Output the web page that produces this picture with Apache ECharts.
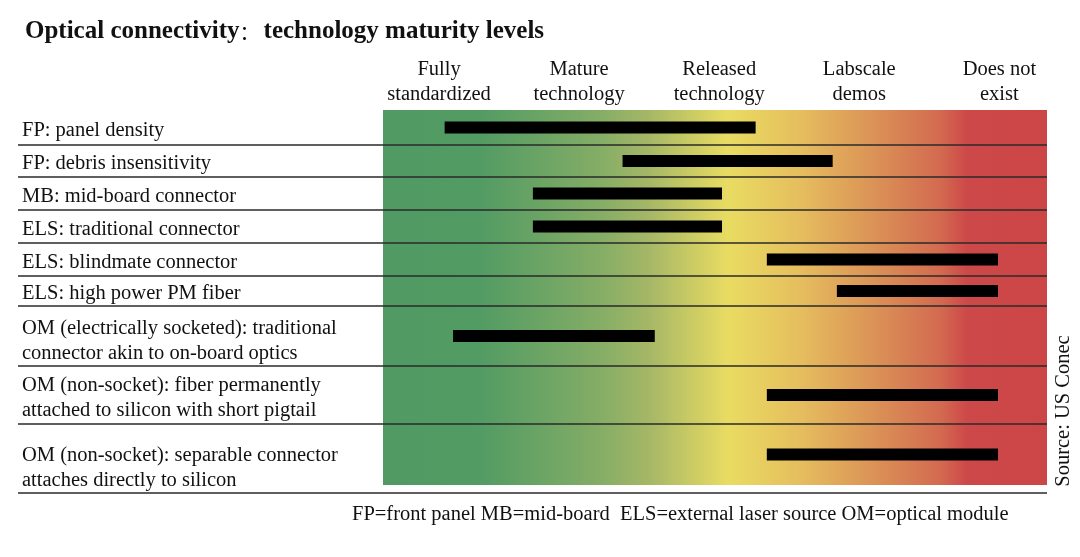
<!DOCTYPE html>
<html>
<head>
<meta charset="utf-8">
<script src="https://cdn.jsdelivr.net/npm/echarts@6/dist/echarts.min.js"></script>
<style>html,body{margin:0;padding:0;background:#fff}#chart{width:1080px;height:557px}</style>
</head>
<body>
<div id="chart"></div>
<script>
// ---- data ----
const titleMain = 'Optical connectivity';
const titleSep = '：';
const titleSub = 'technology maturity levels';
const levels = ['Fully\nstandardized', 'Mature\ntechnology', 'Released\ntechnology', 'Labscale\ndemos', 'Does not\nexist'];
const levelValues = [1, 2, 3, 4, 5];
const categories = [
  'FP: panel density',
  'FP: debris insensitivity',
  'MB: mid-board connector',
  'ELS: traditional connector',
  'ELS: blindmate connector',
  'ELS: high power PM fiber',
  'OM (electrically socketed): traditional\nconnector akin to on-board optics',
  'OM (non-socket): fiber permanently\nattached to silicon with short pigtail',
  'OM (non-socket): separable connector\nattaches directly to silicon'
];
const barStart = [1.04, 2.31, 1.67, 1.67, 3.34, 3.84, 1.10, 3.34, 3.34];
const barEnd   = [3.26, 3.81, 3.02, 3.02, 4.99, 4.99, 2.54, 4.99, 4.99];
const footnote = 'FP=front panel MB=mid-board  ELS=external laser source OM=optical module';
const sourceText = 'Source: US Conec';

// ---- layout (row geometry in y-axis units) ----
const rowEdges = [0, 35, 67, 100, 133, 166, 196, 256, 314, 383];
const labelShift = [3, 3, 3, 3, 3, 3, 5, 3, 10];
const gradEnd = 375;
const X_MIN = 0.6, X_MAX = 5.34;
const BAR_H = 12;
const LINE_LEFT = 18;
const FONT = '"Liberation Serif", "Times New Roman", serif';
const CJK_FONT = '"Noto Sans CJK SC", sans-serif';
const FS = 20.5;

const barMid = categories.map((c, i) => (rowEdges[i] + Math.min(rowEdges[i + 1], gradEnd)) / 2);
const labelMid = categories.map((c, i) => (rowEdges[i] + rowEdges[i + 1]) / 2 + labelShift[i]);

const chart = echarts.init(document.getElementById('chart'), null, {renderer: 'canvas'});

const gradient = new echarts.graphic.LinearGradient(0, 0, 1, 0, [
  {offset: 0, color: '#519a63'},
  {offset: 0.145, color: '#529b63'},
  {offset: 0.326, color: '#84ad66'},
  {offset: 0.40, color: '#a5b766'},
  {offset: 0.52, color: '#e9dc62'},
  {offset: 0.63, color: '#e5bd5e'},
  {offset: 0.75, color: '#da8e56'},
  {offset: 0.84, color: '#d36a50'},
  {offset: 0.88, color: '#cd4848'},
  {offset: 1, color: '#cc4647'}
]);

const option = {
  backgroundColor: '#fff',
  animation: false,
  title: {
    text: '{a|' + titleMain + '}{c|' + titleSep + '}{a|' + titleSub + '}', left: 20, top: 12,
    textStyle: {
      rich: {
        a: {fontFamily: FONT, fontWeight: 'bold', fontSize: 25, lineHeight: 30, color: '#111'},
        c: {fontFamily: CJK_FONT, fontWeight: 'normal', fontSize: 20, lineHeight: 30, color: '#111',
            padding: [0, 4, 0, 0]}
      }
    }
  },
  grid: {left: 383, right: 33, top: 110, bottom: 64},
  xAxis: {
    type: 'value', position: 'top', min: X_MIN, max: X_MAX,
    axisLine: {show: false}, axisTick: {show: false}, splitLine: {show: false},
    axisLabel: {
      customValues: levelValues, margin: 3,
      formatter: v => levels[levelValues.indexOf(v)] || '',
      fontFamily: FONT, fontSize: FS, lineHeight: 25, color: '#111', align: 'center'
    }
  },
  yAxis: {
    type: 'value', inverse: true, min: 0, max: rowEdges[rowEdges.length - 1],
    axisLine: {show: false}, axisTick: {show: false}, splitLine: {show: false},
    axisLabel: {
      customValues: labelMid, margin: 361, align: 'left',
      formatter: v => categories[labelMid.indexOf(v)] || '',
      fontFamily: FONT, fontSize: FS, lineHeight: 25, color: '#111'
    }
  },
  graphic: [
    {type: 'text', left: 352, top: 504,
     style: {text: footnote, fontFamily: FONT, fontSize: FS, fill: '#111'}},
    {type: 'text', x: 1064, y: 411, rotation: Math.PI / 2,
     style: {text: sourceText, fontFamily: FONT, fontSize: FS, fill: '#111', align: 'center', verticalAlign: 'middle'}}
  ],
  series: [
    {
      type: 'custom', z: 1, silent: true, clip: false,
      data: [[X_MIN, 0]],
      renderItem: (params, api) => {
        const a = api.coord([X_MIN, 0]);
        const b = api.coord([X_MAX, gradEnd]);
        return {type: 'rect', shape: {x: a[0], y: a[1], width: b[0] - a[0], height: b[1] - a[1]}, style: {fill: gradient}};
      }
    },
    {
      type: 'custom', z: 3, silent: true, clip: false,
      data: categories.map((c, i) => [i]),
      renderItem: (params, api) => {
        const i = api.value(0);
        const p = api.coord([X_MAX, rowEdges[i + 1]]);
        return {type: 'line', shape: {x1: LINE_LEFT, y1: p[1], x2: p[0], y2: p[1]}, style: {stroke: '#2a2a2a', lineWidth: 1.6}};
      }
    },
    {
      type: 'custom', z: 4, silent: true, clip: false,
      data: categories.map((c, i) => [i, barStart[i], barEnd[i]]),
      renderItem: (params, api) => {
        const i = api.value(0);
        const s = api.coord([api.value(1), barMid[i]]);
        const e = api.coord([api.value(2), barMid[i]]);
        return {type: 'rect', shape: {x: s[0], y: s[1] - BAR_H / 2, width: e[0] - s[0], height: BAR_H}, style: {fill: '#000'}};
      }
    }
  ]
};
chart.setOption(option);
</script>
</body>
</html>
